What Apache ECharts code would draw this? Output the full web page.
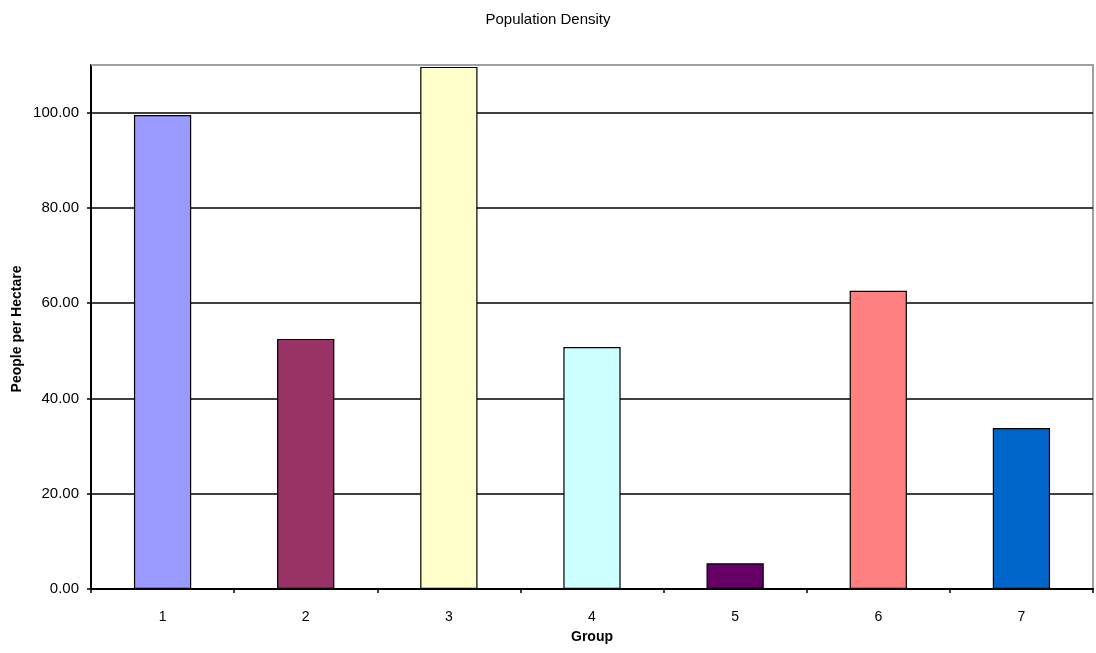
<!DOCTYPE html>
<html>
<head>
<meta charset="utf-8">
<script src="https://cdn.jsdelivr.net/npm/echarts@6/dist/echarts.min.js"></script>
<style>html,body{margin:0;padding:0;background:#fff}#c{width:1096px;height:653px}</style>
</head>
<body>
<div id="c"></div>
<script>
const categories = ['1','2','3','4','5','6','7'];
const values = [99.5, 52.5, 109.6, 50.8, 5.4, 62.6, 33.8];
const barColors = ['#9999FF','#993366','#FFFFCC','#CCFFFF','#660066','#FF8080','#0066CC'];
const yTicks = [0, 20, 40, 60, 80, 100];

const chart = echarts.init(document.getElementById('c'), null, {renderer:'canvas'});
const font = 'Liberation Sans, Arial, sans-serif';
const G = {left: 91, right: 3, top: 65, bottom: 64};
chart.setOption({
  backgroundColor: '#fff',
  animation: false,
  title: {
    text: 'Population Density', left: 'center', top: 7,
    textStyle: {fontFamily: font, fontSize: 15, fontWeight: 'normal', color: '#000'}
  },
  graphic: [{
    type: 'text', x: 17, y: 329, rotation: Math.PI/2,
    style: {text: 'People per Hectare', fontFamily: font, fontSize: 14, fontWeight: 'bold', fill: '#000', align: 'center', verticalAlign: 'middle'}
  }, {
    type: 'line', z: 100,
    shape: {x1: G.left, y1: G.top, x2: 1096 - G.right, y2: G.top},
    style: {stroke: '#a0a0a0', lineWidth: 2}
  }],
  grid: Object.assign({show: true, borderColor: '#a0a0a0', borderWidth: 2, backgroundColor: '#fff'}, G),
  xAxis: {
    type: 'category', data: categories,
    name: 'Group', nameLocation: 'middle', nameGap: 41,
    nameTextStyle: {fontFamily: font, fontSize: 14, fontWeight: 'bold', color: '#000'},
    axisLine: {lineStyle: {color: '#000', width: 2}},
    axisTick: {show: true, inside: false, length: 4, lineStyle: {color: '#000', width: 1.5}},
    axisLabel: {fontFamily: font, fontSize: 14, color: '#000', margin: 21},
    splitLine: {show: false}
  },
  yAxis: {
    type: 'value', min: 0, max: 110, interval: 20,
    axisLine: {show: true, lineStyle: {color: '#000', width: 2}},
    axisTick: {show: true, inside: false, length: 4, customValues: yTicks, lineStyle: {color: '#000', width: 1.5}},
    axisLabel: {fontFamily: font, fontSize: 15, color: '#000', margin: 12, customValues: yTicks,
      formatter: v => v.toFixed(2)},
    splitLine: {show: true, lineStyle: {color: '#000', width: 1.5}}
  },
  series: [{
    type: 'bar',
    data: values.map((v, i) => ({value: v, itemStyle: {color: barColors[i]}})),
    barWidth: '40%',
    itemStyle: {borderColor: '#000', borderWidth: 1.2}
  }]
});
</script>
</body>
</html>
